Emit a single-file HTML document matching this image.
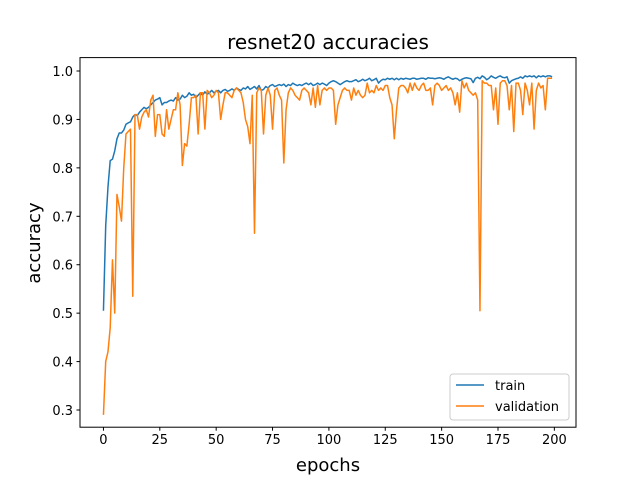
<!DOCTYPE html>
<html><head><meta charset="utf-8"><style>
body{margin:0;background:#fff}
svg text{font-family:"DejaVu Sans","Liberation Sans",sans-serif}
</style></head><body>
<svg id="chart" width="640" height="480" xmlns="http://www.w3.org/2000/svg">
<rect width="640" height="480" fill="#fff"/>
<text x="328" y="49" font-size="20" text-anchor="middle">resnet20 accuracies</text>
<text x="328" y="471" font-size="18" text-anchor="middle">epochs</text>
<text transform="translate(40,243) rotate(-90)" font-size="18" text-anchor="middle">accuracy</text>
<g id="ticks"></g>
<g id="lines"></g>
<rect x="80" y="57.6" width="496" height="369.6" fill="none" stroke="#000" stroke-width="1"/>
<g>
<rect x="450" y="374" width="119" height="46" rx="3" fill="#fff" fill-opacity="0.8" stroke="#ccc"/>
<line x1="456" y1="385" x2="484" y2="385" stroke="#1f77b4" stroke-width="1.5"/>
<text x="495" y="390" font-size="13">train</text>
<line x1="456" y1="406" x2="484" y2="406" stroke="#ff7f0e" stroke-width="1.5"/>
<text x="495" y="411" font-size="13">validation</text>
</g>
</svg>
<script>
const xTicks=[0,25,50,75,100,125,150,175,200];
const yTicks=[0.3,0.4,0.5,0.6,0.7,0.8,0.9,1.0];
const yTickLabels=["0.3","0.4","0.5","0.6","0.7","0.8","0.9","1.0"];
const train=[0.505,0.68,0.76,0.815,0.818,0.835,0.86,0.872,0.872,0.878,0.89,0.893,0.895,0.905,0.91,0.908,0.915,0.92,0.925,0.922,0.925,0.93,0.935,0.94,0.942,0.945,0.93,0.935,0.935,0.938,
0.94,0.938,0.945,0.94,0.942,0.95,0.945,0.948,0.955,0.95,0.952,0.945,0.95,0.955,0.95,0.957,0.952,0.955,0.96,0.955,
0.958,0.96,0.955,0.96,0.962,0.958,0.96,0.963,0.96,0.965,0.962,0.96,0.965,0.963,0.968,0.962,0.965,0.968,0.963,0.97,
0.96,0.962,0.968,0.965,0.97,0.972,0.968,0.97,0.972,0.97,0.973,0.968,0.972,0.97,0.975,0.972,0.97,0.972,0.97,0.973,
0.975,0.972,0.975,0.97,0.972,0.975,0.972,0.975,0.973,0.97,0.975,0.978,0.98,0.978,0.975,0.972,0.975,0.978,0.98,0.978,
0.978,0.98,0.982,0.978,0.98,0.983,0.98,0.982,0.985,0.98,0.982,0.985,0.975,0.98,0.983,0.982,0.985,0.983,0.985,0.982,
0.985,0.982,0.985,0.983,0.985,0.984,0.983,0.985,0.985,0.983,0.984,0.985,0.985,0.983,0.986,0.985,0.985,0.984,0.985,0.986,
0.985,0.983,0.986,0.988,0.985,0.983,0.985,0.984,0.98,0.983,0.985,0.986,0.985,0.984,0.976,0.985,0.987,0.984,0.99,0.987,
0.982,0.985,0.99,0.987,0.985,0.988,0.99,0.987,0.986,0.988,0.975,0.98,0.982,0.984,0.985,0.988,0.985,0.99,0.988,0.99,
0.988,0.99,0.986,0.99,0.988,0.99,0.988,0.99,0.99,0.988];
const validation=[0.29,0.40,0.42,0.47,0.61,0.50,0.745,0.72,0.69,0.80,0.87,0.875,0.88,0.535,0.91,0.91,0.88,0.905,0.915,0.92,
0.905,0.94,0.95,0.865,0.91,0.91,0.87,0.865,0.92,0.88,0.90,0.92,0.92,0.955,0.93,0.805,0.85,0.845,0.89,0.945,
0.945,0.95,0.87,0.955,0.955,0.88,0.96,0.955,0.945,0.95,0.96,0.955,0.90,0.93,0.955,0.955,0.95,0.945,0.96,0.965,
0.96,0.955,0.935,0.90,0.885,0.85,0.95,0.665,0.955,0.965,0.96,0.87,0.95,0.965,0.95,0.88,0.96,0.965,0.95,0.94,
0.81,0.92,0.955,0.965,0.96,0.95,0.945,0.94,0.96,0.965,0.96,0.955,0.93,0.965,0.925,0.97,0.93,0.96,0.965,0.96,
0.965,0.965,0.96,0.89,0.93,0.945,0.96,0.965,0.96,0.96,0.94,0.965,0.95,0.96,0.95,0.945,0.95,0.975,0.955,0.96,
0.955,0.97,0.96,0.965,0.96,0.97,0.97,0.945,0.93,0.86,0.92,0.965,0.97,0.97,0.965,0.955,0.975,0.96,0.975,0.965,
0.96,0.97,0.975,0.96,0.96,0.965,0.93,0.97,0.975,0.97,0.96,0.965,0.97,0.96,0.965,0.955,0.93,0.955,0.915,0.98,
0.965,0.975,0.96,0.955,0.95,0.955,0.94,0.505,0.98,0.975,0.975,0.97,0.97,0.92,0.965,0.89,0.975,0.98,0.98,0.97,
0.92,0.97,0.875,0.975,0.975,0.96,0.91,0.975,0.96,0.93,0.975,0.88,0.96,0.975,0.965,0.97,0.92,0.985,0.985,0.985];
const L=80,R=576,T=57.6,B=427.2,X0=-10.4,X1=209.6,Y0=0.2645,Y1=1.0277;
const sx=v=>L+(v-X0)/(X1-X0)*(R-L);
const sy=v=>B-(v-Y0)/(Y1-Y0)*(B-T);
const NS="http://www.w3.org/2000/svg";
const tg=document.getElementById('ticks'),lg=document.getElementById('lines');
function mk(tag,attrs,parent){const e=document.createElementNS(NS,tag);for(const k in attrs)e.setAttribute(k,attrs[k]);parent.appendChild(e);return e;}
xTicks.forEach(v=>{
  const l=mk('line',{x1:sx(v),x2:sx(v),y1:B,y2:B+3.5,stroke:'#000'},tg);
  
  
  const t=mk('text',{x:sx(v),y:B+17,'font-size':'13','text-anchor':'middle'},tg);
  t.textContent=v;
  
  
});
yTicks.forEach((v,i)=>{
  const l=mk('line',{x1:L-3.5,x2:L,y1:sy(v),y2:sy(v),stroke:'#000'},tg);
  
  
  const t=mk('text',{x:L-7,y:sy(v)+5,'font-size':'13','text-anchor':'end'},tg);
  t.textContent=yTickLabels[i];
  
  
});
function series(arr,color,name){
  const d=arr.map((v,i)=>(i?'L':'M')+sx(i).toFixed(2)+','+sy(v).toFixed(2)).join('');
  const p=mk('path',{d:d,fill:'none',stroke:color,'stroke-width':'1.5','stroke-linejoin':'round'},lg);
  
  
}
series(train,'#1f77b4','train-line');
series(validation,'#ff7f0e','validation-line');
</script>
</body></html>
